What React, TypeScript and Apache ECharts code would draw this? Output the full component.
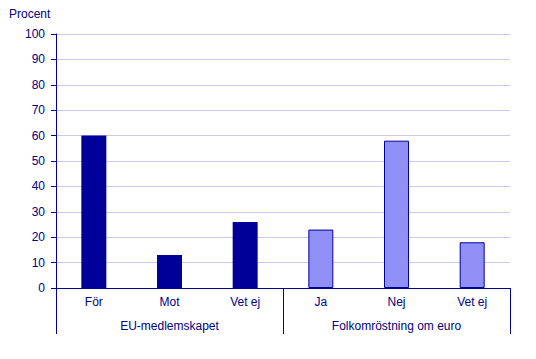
import React, { useEffect, useRef } from "react";
import * as echarts from "echarts";

const categories = ["För", "Mot", "Vet ej", "Ja", "Nej", "Vet ej"];
const groups = ["EU-medlemskapet", "Folkomröstning om euro"];
const values = [60, 13, 26, 23, 58, 18];
const groupOfBar = [0, 0, 0, 1, 1, 1];
const yTicks = { min: 0, max: 100, interval: 10 };

const DARK = "#000099";
const LIGHT = "#8f8ff5";
const TEXT = "#000080";
const FONT = "'Liberation Sans', Arial, sans-serif";

export default function App() {
  const ref = useRef<HTMLDivElement>(null);
  useEffect(() => {
    if (!ref.current) return;
    const chart = echarts.init(ref.current, null, { renderer: "svg" });
    chart.setOption({
      animation: false,
      textStyle: { fontFamily: FONT },
      title: {
        text: "Procent",
        left: 9,
        top: 8,
        padding: 0,
        textStyle: { fontSize: 12, fontWeight: "normal", color: TEXT, fontFamily: FONT },
      },
      grid: { left: 56, right: 26, top: 34, bottom: 71 },
      xAxis: [
        {
          type: "category",
          data: categories,
          axisLine: { show: true, lineStyle: { color: DARK, width: 1 } },
          axisTick: { show: false },
          axisLabel: { color: TEXT, fontSize: 12, margin: 8, interval: 0, fontFamily: FONT },
        },
        {
          type: "category",
          data: groups,
          position: "bottom",
          axisLine: { show: false },
          axisTick: { show: true, length: 46, lineStyle: { color: DARK, width: 1 } },
          axisLabel: { color: TEXT, fontSize: 12, margin: 32, interval: 0, fontFamily: FONT },
          splitLine: { show: false },
        },
      ],
      yAxis: {
        type: "value",
        min: yTicks.min,
        max: yTicks.max,
        interval: yTicks.interval,
        axisLine: { show: true, lineStyle: { color: DARK, width: 1 } },
        axisTick: { show: true, length: 5, lineStyle: { color: DARK } },
        axisLabel: { color: TEXT, fontSize: 12, margin: 11, fontFamily: FONT },
        splitLine: { show: true, lineStyle: { color: "#c8c8ee", width: 1 } },
      },
      series: [
        {
          type: "bar",
          xAxisIndex: 0,
          barWidth: "33%",
          data: values.map((v, i) => ({
            value: v,
            itemStyle:
              groupOfBar[i] === 0
                ? { color: DARK }
                : { color: LIGHT, borderColor: DARK, borderWidth: 1 },
          })),
        },
      ],
    });
    return () => chart.dispose();
  }, []);
  return (
    <div
      ref={ref}
      style={{ position: "absolute", left: 0, top: 0, width: 536, height: 359 }}
    />
  );
}
